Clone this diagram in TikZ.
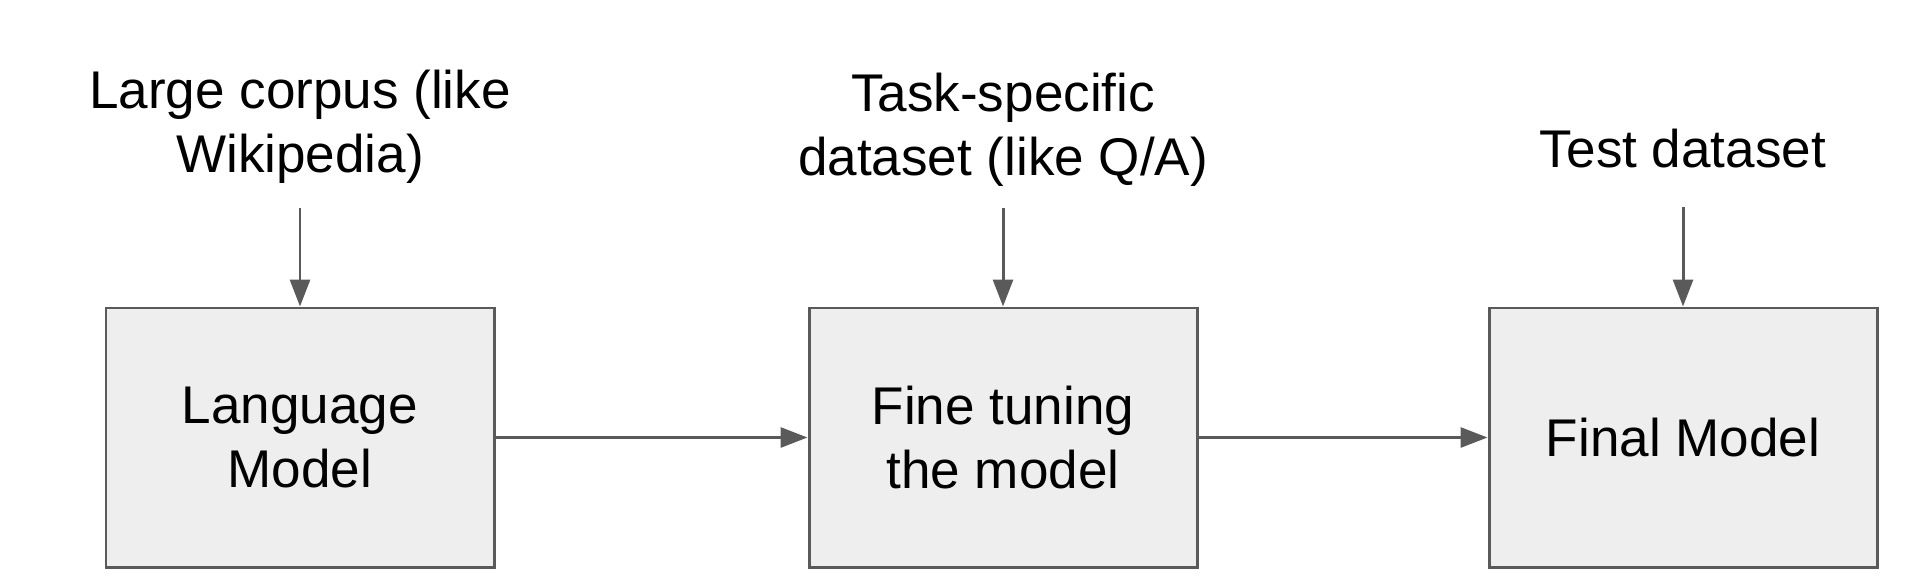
\documentclass[tikz,border=0pt]{standalone}
\usepackage{fontspec}
\setmainfont{Liberation Sans}
\usetikzlibrary{arrows.meta}
\definecolor{linegray}{HTML}{5A5A5A}
\definecolor{boxfill}{HTML}{EEEEEE}
\tikzset{
    stagebox/.style={draw=linegray, fill=boxfill, line width=0.85pt, minimum width=3.88cm, minimum height=2.59cm, align=center, inner sep=0pt},
    flow/.style={draw=linegray, line width=0.85pt, -{Triangle[length=0.27cm,width=0.2cm]}},
    inputtext/.style={align=center, anchor=base}
}
\begin{document}
\begin{tikzpicture}[font=\fontsize{15.1pt}{18pt}\selectfont]
            \useasboundingbox (0,0) rectangle (19.2,-5.86);
            % stages
            \node[stagebox] (lm) at (3.00,-4.375) {Language\\Model};
            \node[stagebox] (ft) at (10.03,-4.375) {Fine tuning\\the model};
            \node[stagebox] (fm) at (16.83,-4.375) {Final Model};
            % inputs
            \node[inputtext] (corpus) at (3.00,-1.72) {Large corpus (like\\Wikipedia)};
            \node[inputtext] (taskdata) at (10.03,-1.75) {Task-specific\\dataset (like Q/A)};
            \node[inputtext] (testdata) at (16.83,-1.67) {Test dataset};
            \coordinate (in1) at (3.00,-2.08);
            \coordinate (in2) at (10.03,-2.08);
            \coordinate (in3) at (16.83,-2.07);
            \draw[flow] (in1) -- (lm.north);
            \draw[flow] (in2) -- (ft.north);
            \draw[flow] (in3) -- (fm.north);
            \draw[flow] (lm.east) -- (ft.west);
            \draw[flow] (ft.east) -- (fm.west);
\end{tikzpicture}
\end{document}
